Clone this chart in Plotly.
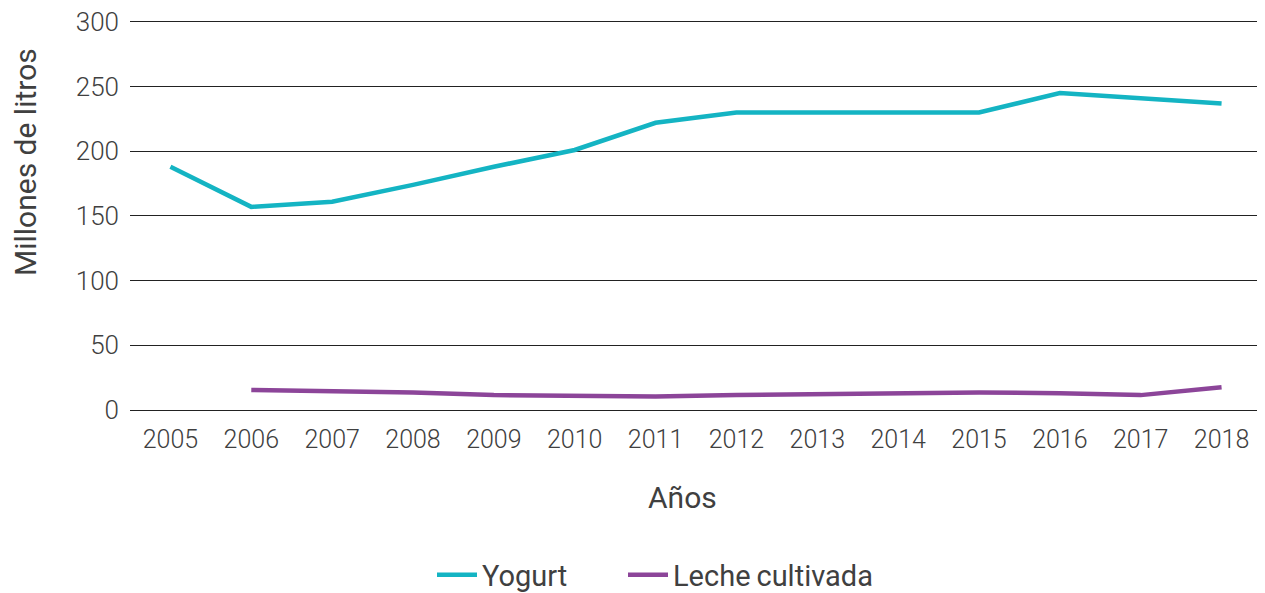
import plotly.graph_objects as go

years = ["2005", "2006", "2007", "2008", "2009", "2010", "2011",
         "2012", "2013", "2014", "2015", "2016", "2017", "2018"]
yogurt = [188, 157, 161, 174, 188, 201, 222, 230, 230, 230, 230, 245, 241, 237]
leche_years = years[1:]
leche = [15.5, 14.5, 13.5, 11.5, 11, 10.5, 11.5, 12, 12.5, 13.5, 13, 11.5, 17.5]

YOGURT_COLOR = "#14B4C3"
LECHE_COLOR = "#8C4599"
TEXT = "#404040"

# the page body adds an 8px offset, so the figure is drawn 8px smaller
W, H = 1257, 585
L, R, T, B = 122, 3, 10, 183
PW, PH = W - L - R, H - T - B

fig = go.Figure()
fig.add_trace(go.Scatter(x=years, y=yogurt, mode="lines", name="Yogurt",
                         line=dict(color=YOGURT_COLOR, width=4.5), legend="legend"))
fig.add_trace(go.Scatter(x=leche_years, y=leche, mode="lines", name="Leche\u2009cultivada",
                         line=dict(color=LECHE_COLOR, width=4.5), legend="legend2"))

legend_style = dict(orientation="h", xanchor="left", yref="container",
                    y=(593 - 575) / H, yanchor="middle", itemwidth=40,
                    font=dict(size=29, color=TEXT, weight=400))

fig.update_layout(
    width=W, height=H,
    margin=dict(l=L, r=R, t=T, b=B, autoexpand=False),
    plot_bgcolor="white", paper_bgcolor="white",
    font=dict(family="Roboto", color=TEXT, size=20, weight=300),
    xaxis=dict(
        type="category", categoryorder="array", categoryarray=years,
        range=[-0.5, len(years) - 0.5],
        showgrid=False, showline=False, ticks="", automargin=False,
        tickfont=dict(size=25, color=TEXT, weight=300), ticklabelstandoff=12,
    ),
    yaxis=dict(
        range=[0, 303], tickvals=[0, 50, 100, 150, 200, 250, 300],
        showgrid=True, gridcolor="#222222", gridwidth=1,
        zeroline=True, zerolinecolor="#222222", zerolinewidth=1,
        tickfont=dict(size=26, color=TEXT, weight=300), ticks="", automargin=False,
        ticklabelstandoff=10, ticklabeloverflow="allow",
    ),
    annotations=[
        dict(text="Años", xref="paper", yref="paper", x=(682 - 8 - L) / PW,
             y=-(497 - 410) / PH, xanchor="center", yanchor="middle", showarrow=False,
             font=dict(size=30, color=TEXT, weight=400)),
        dict(text="Millones de litros", xref="paper", yref="paper",
             x=-(130 - 25) / PW, y=(410 - 162) / PH, textangle=-90,
             xanchor="center", yanchor="middle", showarrow=False,
             font=dict(size=30, color=TEXT, weight=400)),
    ],
    showlegend=True,
    legend=dict(legend_style, x=(437 - 8 - 5 - L) / PW),
    legend2=dict(legend_style, x=(628 - 8 - 5 - L) / PW),
)

fig.write_html("out.html")
